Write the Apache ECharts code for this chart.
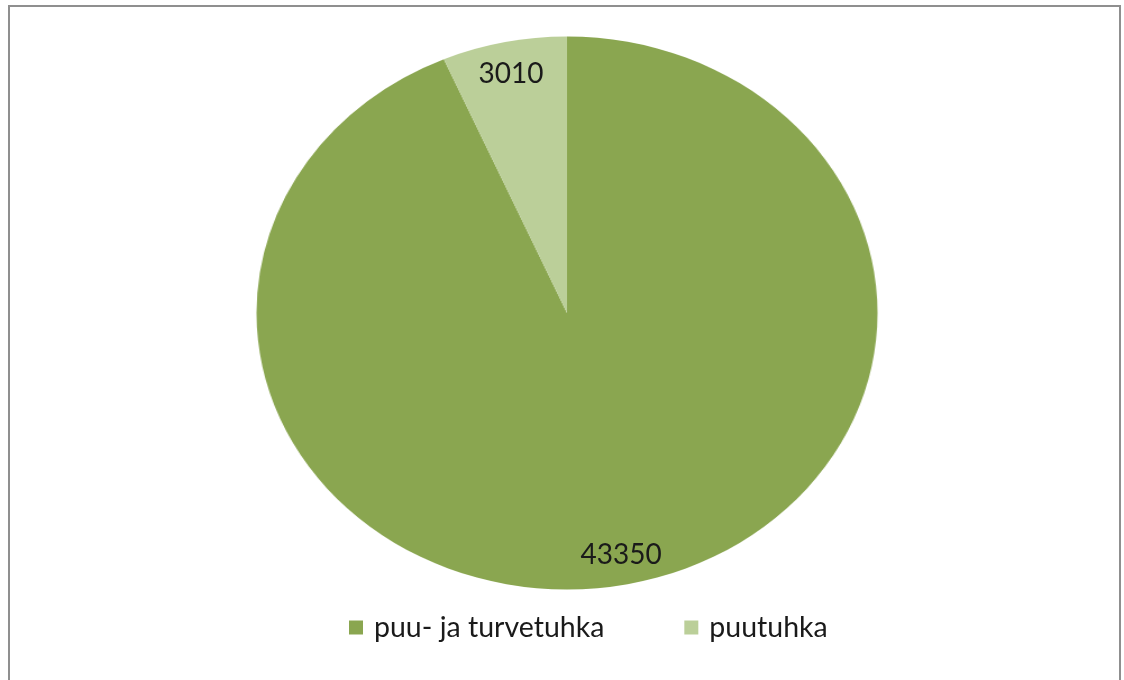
<!DOCTYPE html>
<html>
<head>
<meta charset="utf-8">
<script src="https://cdn.jsdelivr.net/npm/echarts@6/dist/echarts.min.js"></script>
<style>
  html, body { margin: 0; padding: 0; background: #ffffff; }
  #frame {
    position: absolute; left: 8px; top: 5px; width: 1113px; height: 690px;
    border: 2px solid #8f8f8f; box-sizing: border-box;
  }
  .layer { position: absolute; left: 0; top: 0; width: 1124px; height: 680px; }
  /* the pie is drawn as an ellipse: the shape layer is stretched horizontally around the pie centre */
  #shapes { transform: scaleX(1.123); transform-origin: 567px 313px; }
</style>
</head>
<body>
<div id="frame"></div>
<div id="shapes" class="layer"></div>
<div id="texts" class="layer"></div>
<script>
// Ash amounts by type
const categories = ['puu- ja turvetuhka', 'puutuhka'];
const values = [43350, 3010];

const colors = ['#8aa650', '#bbcf99'];
const FONT = 'Lato, "Liberation Sans", sans-serif';
const CENTER = [567, 313];
const R = 276.5;

const sliceData = categories.map((name, i) => ({
  name: name,
  value: values[i],
  itemStyle: { color: colors[i] }
}));

// Layer 1: coloured slices (stretched by CSS into an ellipse)
const shapes = echarts.init(document.getElementById('shapes'));
shapes.setOption({
  animation: false,
  series: [{
    type: 'pie',
    center: CENTER,
    radius: [0, R],
    startAngle: 90,
    clockwise: true,
    silent: true,
    label: { show: false },
    labelLine: { show: false },
    itemStyle: { borderWidth: 0 },
    data: sliceData
  }]
});

// Layer 2: value labels and legend, not stretched
const labelOffsets = [[4, 0], [-6, 3]];
const texts = echarts.init(document.getElementById('texts'));
texts.setOption({
  animation: false,
  legend: {
    data: categories.map((name, i) => ({ name: name, itemStyle: { color: colors[i] } })),
    left: 344,
    top: 608,
    itemWidth: 14,
    itemHeight: 14,
    itemGap: 80,
    icon: 'rect',
    textStyle: { fontFamily: FONT, fontSize: 28.5, color: '#1a1a1a', padding: [0, 0, 0, 6] }
  },
  series: [{
    type: 'pie',
    center: CENTER,
    radius: [211.5, R],
    startAngle: 90,
    clockwise: true,
    silent: true,
    itemStyle: { color: 'rgba(0,0,0,0)', borderWidth: 0 },
    label: {
      show: true,
      position: 'inside',
      formatter: '{c}',
      fontFamily: FONT,
      fontSize: 28,
      color: '#1a1a1a'
    },
    labelLine: { show: false },
    emphasis: { disabled: true },
    data: categories.map((name, i) => ({
      name: name,
      value: values[i],
      label: { offset: labelOffsets[i] }
    }))
  }]
});
</script>
</body>
</html>
